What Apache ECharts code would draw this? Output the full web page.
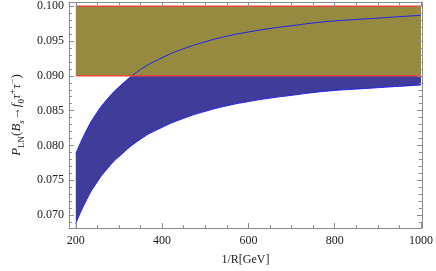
<!DOCTYPE html>
<html>
<head>
<meta charset="utf-8">
<script src="https://cdn.jsdelivr.net/npm/echarts@6/dist/echarts.min.js"></script>
<style>html,body{margin:0;padding:0;background:#fff}#c{width:436px;height:271px}</style>
</head>
<body>
<div id="c"></div>
<script>
// ---- data ----
const xs = [200, 225, 250, 275, 300, 350, 400, 450, 500, 550, 600, 650, 700, 750, 800, 850, 900, 950, 1000];
const upper = [0.0788, 0.0822, 0.0848, 0.0868, 0.0884, 0.0909, 0.0926, 0.0939, 0.0949, 0.0957, 0.0963, 0.0968, 0.0972, 0.0976, 0.0979, 0.0981, 0.0983, 0.0985, 0.0987];
const lower = [0.0688, 0.0722, 0.0748, 0.0768, 0.0784, 0.0809, 0.0826, 0.0839, 0.0849, 0.0857, 0.0863, 0.0868, 0.0872, 0.0876, 0.0879, 0.0881, 0.0883, 0.0885, 0.0887];
const expX = [200, 1000];
const expLow = [0.090, 0.090];
const expHigh = [0.100, 0.100];
const xTicksMajor = [200, 400, 600, 800, 1000];
const yTicksMajor = [0.070, 0.075, 0.080, 0.085, 0.090, 0.095, 0.100];

const xMin = 184, xMax = 1002, yMin = 0.06814, yMax = 0.10061;
const xMinor = []; for (let v = 200; v <= 1000; v += 50) xMinor.push(v);
const yMinor = []; for (let k = 69; k <= 100; k++) yMinor.push(k / 1000);

const frame = '#8c8c8c';
const font = 'Liberation Serif';

function xAx(pos, vals, len, labels, line) {
  return {
    type: 'value', position: pos, min: xMin, max: xMax, z: 10,
    axisLine: {show: line, onZero: false, lineStyle: {color: frame, width: 1}},
    axisTick: {show: true, inside: true, length: len, customValues: vals, lineStyle: {color: frame}},
    axisLabel: {show: labels, customValues: vals, fontFamily: font, fontSize: 12, color: '#222', margin: 7,
      formatter: v => String(Math.round(v))},
    splitLine: {show: false}
  };
}
function yAx(pos, vals, len, labels, line) {
  return {
    type: 'value', position: pos, min: yMin, max: yMax, z: 10,
    axisLine: {show: line, onZero: false, lineStyle: {color: frame, width: 1}},
    axisTick: {show: true, inside: true, length: len, customValues: vals, lineStyle: {color: frame}},
    axisLabel: {show: labels, customValues: vals, fontFamily: font, fontSize: 12, color: '#222', margin: 5,
      formatter: v => v.toFixed(3)},
    splitLine: {show: false}
  };
}

const xA = [xAx('bottom', xTicksMajor, 5, true, true), xAx('bottom', xMinor, 3, false, false),
            xAx('top', xTicksMajor, 5, false, true), xAx('top', xMinor, 3, false, false)];
xA[0].name = '1/R[GeV]';
xA[0].nameLocation = 'middle';
xA[0].nameGap = 26;
xA[0].nameTextStyle = {fontFamily: font, fontSize: 12, color: '#222'};

const yA = [yAx('left', yTicksMajor, 5, true, true), yAx('left', yMinor, 3, false, false),
            yAx('right', yTicksMajor, 5, false, true), yAx('right', yMinor, 3, false, false)];
yA[0].name = '{i|P}{sub|LN}({i|B}{subi|s}\u2192{i|f}{sub|0}{i|\u03c4}{sup|+}{i|\u03c4}{sup|\u2212})';
yA[0].nameLocation = 'middle';
yA[0].nameGap = 42;
yA[0].nameTextStyle = {
  fontFamily: font, fontSize: 13, color: '#222', lineHeight: 18,
  rich: {
    i: {fontFamily: font, fontStyle: 'italic', fontSize: 13, color: '#222', lineHeight: 18},
    sub: {fontFamily: font, fontSize: 9, color: '#222', verticalAlign: 'bottom', lineHeight: 11},
    subi: {fontFamily: font, fontStyle: 'italic', fontSize: 9, color: '#222', verticalAlign: 'bottom', lineHeight: 11},
    sup: {fontFamily: font, fontSize: 10, color: '#222', verticalAlign: 'top', lineHeight: 11}
  }
};

const pts = arr => xs.map((x, i) => [x, arr[i]]);
const blueLine = '#2020ee', blueFill = '#3f3d99', olive = '#968940', red = '#e8473a';

const chart = echarts.init(document.getElementById('c'), null, {renderer: 'canvas'});
chart.setOption({
  animation: false,
  grid: {left: 62, right: 13, top: 2, bottom: 42, containLabel: false},
  xAxis: xA,
  yAxis: yA,
  series: [
    // blue band: fill under upper curve, then white fill under lower curve
    {type: 'line', data: pts(upper), smooth: true, symbol: 'none', z: 1,
     lineStyle: {width: 0}, areaStyle: {color: blueFill, opacity: 1, origin: 'start'}},
    {type: 'line', data: pts(lower), smooth: true, symbol: 'none', z: 2,
     lineStyle: {color: blueLine, width: 1}, areaStyle: {color: '#ffffff', opacity: 1, origin: 'start'}},
    // experimental band
    {type: 'line', data: expX.map((x, i) => [x, expHigh[i]]), symbol: 'none', z: 3,
     lineStyle: {color: red, width: 1.5}, areaStyle: {color: olive, opacity: 1, origin: expLow[0]}},
    {type: 'line', data: expX.map((x, i) => [x, expLow[i]]), symbol: 'none', z: 5,
     lineStyle: {color: red, width: 1.5}},
    // upper curve line on top
    {type: 'line', data: pts(upper), smooth: true, symbol: 'none', z: 4,
     lineStyle: {color: blueLine, width: 1}}
  ]
});
</script>
</body>
</html>
